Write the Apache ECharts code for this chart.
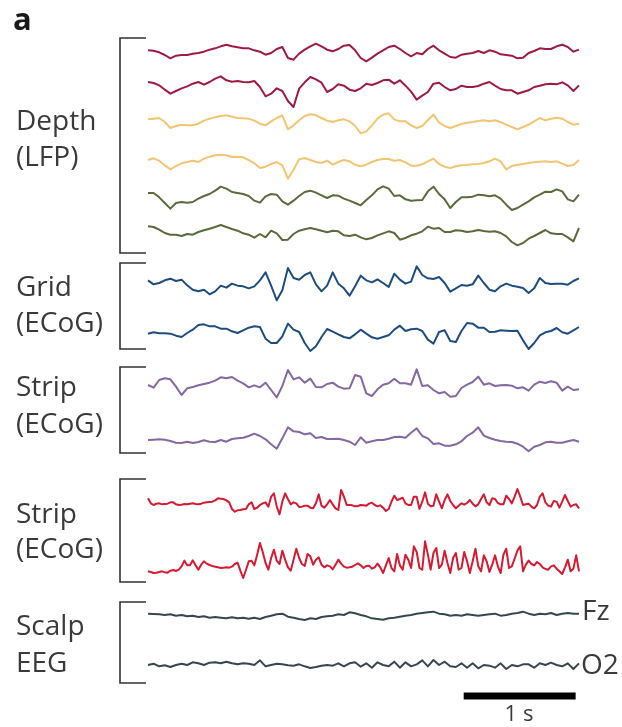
<!DOCTYPE html>
<html lang="en">

<head>
  <meta charset="UTF-8">
  <title>Depth, ECoG and scalp EEG traces</title>
  <style>
    html,
    body {
      margin: 0;
      padding: 0;
      overflow: hidden;
      background: #fff;
    }

    #chart {
      width: 622px;
      height: 727px;
    }
  </style>
</head>

<body>
  <div id="chart"></div>
</body>
<script src="https://cdn.jsdelivr.net/npm/echarts@6.0.0/dist/echarts.min.js"></script>
<script>
  // sampling step (s) of the traces, the two red strip traces are sampled finer
  const DT = 0.05;
  const DT_FAST = 0.025;
  const T_MAX = 3.85;

  // amplitudes (arbitrary units, up = positive)
  const depth1 = [8, 7, 2, -6, -16, -8, -6, -6, -2, 0, 4, 10, 14, 20, 25, 20, 17, 14, 14, 8, 4, -5, 0, 12, 18, -15, -20, -2, 10, 20, 28, 20, 10, 5, 12, 22, 24, 8, -15, -25, -14, -2, 8, 18, 22, 12, 0, -10, 0, -4, 12, 22, 8, -2, -12, -14, -5, -2, 0, 6, 0, 8, 4, -4, -6, -8, -16, -14, 0, 6, 14, 12, 12, 20, 25, 18, 4, 10];
  const depth2 = [15, 12, 5, -8, -20, -12, -4, 2, 10, 15, 7, 15, 25, 32, 20, 16, 18, 15, 14, 18, 0, -28, -20, -4, -12, -42, -60, -5, 14, 30, 23, 13, -15, -6, 8, 4, -8, -12, -4, 10, 6, 12, 20, 22, 10, 20, 4, -14, -38, -26, -15, 10, 13, 0, -10, -6, 4, 0, 0, 3, 10, 15, 4, -6, -10, -10, -20, -15, -10, 0, 4, 8, 10, 8, 14, 5, -12, 5];
  const depth3 = [8, 10, 12, 0, -18, -12, -8, -10, -10, -5, 4, 10, 14, 18, 20, 16, 12, 11, 10, 4, -5, -10, 2, 12, 20, -22, -10, 5, 18, 23, 20, 12, 4, 0, 5, 8, 2, -12, -34, -28, -10, 10, 22, 26, 8, 2, 2, -10, -18, -12, 6, 22, -2, -12, -18, -12, -6, -2, 0, 3, 5, 2, 5, 0, -8, -15, -22, -15, -8, 2, 12, 5, 10, 13, 10, 0, -8, -5];
  const depth4 = [9, 14, 7, -7, -19, -9, -1, 3, 7, 3, 13, 19, 23, 25, 23, 18, 19, 17, 9, -1, -15, -11, -3, 3, -7, -47, -20, 11, 15, 9, 3, 0, 7, -5, 3, 9, 5, -5, -10, -5, 3, 9, 12, 12, 7, 9, 2, -8, -8, -4, 5, 13, -3, -11, -15, -10, -7, -6, -4, -3, 0, 5, 13, 5, -19, -9, -5, -3, 0, 2, 4, 5, 3, 5, -2, -9, -6, 9];
  const depth5 = [15, 15, 2, -15, -32, -15, -12, -14, -12, -2, 6, 12, 22, 34, 28, 18, 15, 12, 6, -8, -14, 5, 12, 10, -10, -20, -8, 6, 18, 22, 16, 8, 0, 8, 7, -2, -8, -15, -22, -6, 8, 26, 35, 28, 6, 8, -4, -8, -7, -6, 20, 34, 12, -4, -30, -12, 2, 2, 4, 10, 8, 5, 8, -2, -20, -36, -30, -20, -10, 2, 10, 19, 18, 26, 20, -4, -10, 10];
  const depth6 = [20, 18, 10, 0, -5, -5, -9, -3, -5, 3, 8, 13, 18, 24, 18, 12, 7, -1, -5, -14, -3, -13, 7, -1, -21, -20, -3, 7, 11, 15, 11, 7, 2, 7, 5, -7, -9, -5, -13, -19, -15, -7, -1, 5, 0, -20, -15, -7, -2, 5, 19, 13, 15, 3, 3, 8, 7, 3, 5, 9, 6, 4, 5, 0, -10, -27, -37, -30, -17, -9, 0, 9, -1, -3, -3, -13, -25, 15];
  const grid1 = [8, -4, 0, 8, 13, 6, 10, -7, -20, -25, -20, -34, -25, -8, -14, -2, -8, -10, -16, -10, 8, 32, -8, -52, -22, 45, 15, 10, 24, 32, -4, -25, -8, 32, -2, -16, -38, -10, 22, 8, 2, 11, 0, -12, 28, 10, -2, 4, 50, 24, 14, 12, 18, 0, -26, -16, -6, -8, -4, 22, 0, -20, -25, -10, -2, -8, -11, -15, -30, -16, 15, 0, -3, -2, -2, -5, 6, 14];
  const grid2 = [-5, -1, -4, -4, -5, -11, -15, -3, 7, 21, 23, 17, 17, 10, 10, 2, -3, 5, 13, 17, 15, -20, -33, -33, -13, 25, 7, 0, -33, -57, -43, -15, 9, 1, -7, -15, -19, -7, 7, -5, -16, -20, -15, -10, 7, 19, 3, 8, 10, 3, -23, -35, 0, 5, -27, -30, 3, 27, 25, 13, 13, 0, 1, 5, 4, 3, 4, -25, -51, -33, -10, -1, 3, 12, -1, -5, 5, 15];
  const stripA1 = [0, -8, 15, 20, 17, -5, -30, -10, -6, -1, 3, 7, 13, 23, 20, 24, 13, 5, -7, -1, -7, 7, -15, -37, -3, 45, 17, 23, 7, 19, -6, -7, 3, 7, -5, -11, -10, 30, 25, -25, -33, -13, 1, 5, 19, 5, 5, 1, 47, -3, -1, -15, -25, -21, -35, -33, -9, 1, 9, 25, 1, 5, -3, -1, 0, -2, -10, -7, -17, 1, 10, 6, 11, 7, -17, -5, -15, -13];
  const stripA2 = [0, 1, 2, 1, -3, -8, -9, -5, -9, -6, -1, -5, -6, 0, -5, 3, 5, 7, 12, 19, 12, 2, -13, -26, 5, 38, 26, 24, 17, 20, 6, 9, 3, 3, 4, 0, -5, -15, 8, -8, -4, 0, 0, 4, 9, 10, 7, 22, 35, 12, 5, -12, -10, -17, -17, -13, -4, 12, 22, 38, 13, 6, 1, -3, -5, -6, -11, -20, -34, -20, -15, -7, -5, -8, -8, -4, 0, -5];
  const stripB1 = [20, 5, 0, 4, 5, 2, 3, 4, 8, 8, 2, 0, 1, 3, 2, 4, 5, 3, 2, 4, 7, 8, 9, 10, 14, 20, 19, 18, 14, 8, -12, -20, -16, -15, -13, -12, 2, 8, -12, -8, 0, 5, 8, -5, 25, 35, -5, -28, 10, 35, 18, 2, 8, 5, -6, -5, -2, -2, -8, -10, 5, 32, -2, -8, 2, 15, 2, -10, -15, 45, 25, 0, 0, -1, -4, -3, 0, -1, -2, 4, 7, 0, -4, -1, -8, -18, -12, 10, 28, 15, 18, 22, 5, 0, 0, 25, 25, -12, 10, 38, 4, -4, -2, 32, 10, -10, 15, 32, 12, 0, -10, -2, 5, 1, 6, 15, 4, -4, 2, 18, 32, 8, 0, 20, 18, 6, 2, 2, 28, 18, 5, 25, 48, 25, 0, 2, 4, -5, -10, 0, 25, 35, 8, -2, -5, 12, 10, -8, 10, 30, 12, -5, 0, 2, -10];
  const stripB2 = [-10, -12, -15, -14, -12, -10, -13, -14, -8, -6, -9, -5, 5, 22, 8, 8, 23, 8, -5, 10, 20, 13, 9, 6, 4, 2, 0, 1, 2, 1, 4, 12, 16, -8, -30, -6, 20, 22, 8, 40, 75, 48, 15, -5, 30, 55, 22, 12, 52, 25, 2, -8, 25, 58, 30, 12, 6, 42, 35, 10, 25, 32, 10, 2, 8, 5, -4, 10, 25, 13, 4, 1, 2, 4, 9, 14, 8, 0, 6, 7, -2, 2, 13, 2, -15, 8, 30, 0, -10, 42, 8, -5, 40, 25, 0, 65, 48, 0, -5, 80, 40, -5, 45, 60, 0, 10, 52, 15, -15, 30, 45, -5, 0, 48, 20, -15, 20, 58, 5, -10, 38, 20, -12, 10, 38, 5, -15, 40, 58, 0, 5, 28, 52, 65, -10, 10, 22, 12, 8, 18, 12, 2, -3, -5, 5, 8, -2, -10, -18, 2, 25, -10, -2, 38, -10];
  const eegFz = [4, 3, 2, 0, 2, -2, 0, -4, -2, -6, -4, -8, -6, -8, -10, -7, -10, -8, -11, -8, -12, -6, -2, 2, 4, -5, -8, -12, -15, -10, -12, -6, -4, -2, 2, 0, 8, 5, 0, -4, -10, -12, -14, -10, -8, -5, -2, 0, 4, 6, 8, 10, 4, 2, -2, 0, -2, 2, 0, -2, 0, 2, 4, -2, 0, 4, 6, 10, 4, 0, 4, 2, 6, 0, 4, 6, 4, 4];
  const eegO2 = [0, 4, -4, -1, -6, 0, 4, 0, 8, 5, 0, 7, 8, 5, 10, 5, 2, 5, 4, 0, 14, -4, 0, 4, 2, -1, -2, 2, -4, -9, -6, -2, 0, -2, 5, -4, 5, 8, -5, 5, -8, 8, 0, -4, 10, -8, 8, -4, 2, 14, -4, 15, 0, 10, -4, -6, 5, -8, 5, -10, 0, -2, -8, 5, -12, 0, -4, 2, 2, -8, 5, 0, 7, 0, -4, 5, -12, 5];

  // scale bar: 1 s, start and end time
  const scaleBar = [2.82, 3.82];

  // group labels and their trace names
  const groups = [
    { lines: ['Depth', '(LFP)'], top: 38, bottom: 253, textY: [122, 158] },
    { lines: ['Grid', '(ECoG)'], top: 263, bottom: 349, textY: [288, 324] },
    { lines: ['Strip', '(ECoG)'], top: 367, bottom: 453, textY: [388, 425] },
    { lines: ['Strip', '(ECoG)'], top: 479, bottom: 582, textY: [515, 550] },
    { lines: ['Scalp', 'EEG'], top: 602, bottom: 683, textY: [627, 664] }
  ];

  const C_CRIMSON = '#9e1a42';
  const C_YELLOW = '#f3c572';
  const C_GREEN = '#5a6b3b';
  const C_BLUE = '#1c4d80';
  const C_PURPLE = '#8467a3';
  const C_RED = '#d51a31';
  const C_SLATE = '#37474f';

  const traces = [
    { data: depth1, dt: DT, color: C_CRIMSON, base: 53 },
    { data: depth2, dt: DT, color: C_CRIMSON, base: 87 },
    { data: depth3, dt: DT, color: C_YELLOW, base: 122 },
    { data: depth4, dt: DT, color: C_YELLOW, base: 163 },
    { data: depth5, dt: DT, color: C_GREEN, base: 198 },
    { data: depth6, dt: DT, color: C_GREEN, base: 233 },
    { data: grid1, dt: DT, color: C_BLUE, base: 283 },
    { data: grid2, dt: DT, color: C_BLUE, base: 332 },
    { data: stripA1, dt: DT, color: C_PURPLE, base: 385 },
    { data: stripA2, dt: DT, color: C_PURPLE, base: 440 },
    { data: stripB1, dt: DT_FAST, color: C_RED, base: 505 },
    { data: stripB2, dt: DT_FAST, color: C_RED, base: 568 },
    { data: eegFz, dt: DT, color: C_SLATE, base: 615 },
    { data: eegO2, dt: DT, color: C_SLATE, base: 665 }
  ];

  const myChart = echarts.init(document.querySelector('#chart'));

  const LEFT = 148, WIDTH = 431, HALF = 30;
  const FONT = 'Open Sans';
  const TXT = '#3a3a3a';

  const grids = [], xAxes = [], yAxes = [], series = [];
  traces.forEach(function (tr, i) {
    grids.push({ left: LEFT, width: WIDTH, top: tr.base - HALF, height: HALF * 2 });
    xAxes.push({ type: 'value', gridIndex: i, min: 0, max: T_MAX, show: false });
    yAxes.push({ type: 'value', gridIndex: i, min: -HALF * 3, max: HALF * 3, show: false });
    series.push({
      type: 'line',
      xAxisIndex: i,
      yAxisIndex: i,
      data: tr.data.map(function (v, j) { return [j * tr.dt, v]; }),
      showSymbol: false,
      clip: false,
      lineStyle: { color: tr.color, width: 2, join: 'round' },
      silent: true
    });
  });

  // scale bar on its own grid, same time axis
  const sb = traces.length;
  grids.push({ left: LEFT, width: WIDTH, top: 686, height: 20 });
  xAxes.push({ type: 'value', gridIndex: sb, min: 0, max: T_MAX, show: false });
  yAxes.push({ type: 'value', gridIndex: sb, min: -1, max: 1, show: false });
  series.push({
    type: 'line',
    xAxisIndex: sb,
    yAxisIndex: sb,
    data: [[scaleBar[0], 0], [scaleBar[1], 0]],
    showSymbol: false,
    lineStyle: { color: '#000', width: 7, cap: 'butt' },
    silent: true
  });

  const graphics = [];
  graphics.push({
    type: 'text', left: 13, top: 6,
    style: { text: 'a', font: 'bold 31px "' + FONT + '"', fill: '#1a1a1a' }
  });
  groups.forEach(function (g) {
    graphics.push({
      type: 'polyline',
      shape: { points: [[146, g.top], [120, g.top], [120, g.bottom], [146, g.bottom]] },
      style: { stroke: '#333', lineWidth: 1.6, fill: null }
    });
    g.lines.forEach(function (t, k) {
      graphics.push({
        type: 'text', x: 16, y: g.textY[k],
        style: { text: t, font: '28px "' + FONT + '"', fill: TXT, verticalAlign: 'middle' }
      });
    });
  });
  graphics.push({
    type: 'text', x: 582, y: 612,
    style: { text: 'Fz', font: '28px "' + FONT + '"', fill: TXT, verticalAlign: 'middle' }
  });
  graphics.push({
    type: 'text', x: 581, y: 666,
    style: { text: 'O2', font: '28px "' + FONT + '"', fill: TXT, verticalAlign: 'middle' }
  });
  graphics.push({
    type: 'text', x: 519, y: 715,
    style: { text: '1 s', font: '22px "' + FONT + '"', fill: TXT, align: 'center', verticalAlign: 'middle' }
  });

  myChart.setOption({
    animation: false,
    backgroundColor: '#fff',
    grid: grids,
    xAxis: xAxes,
    yAxis: yAxes,
    series: series,
    graphic: graphics
  });
</script>

</html>
